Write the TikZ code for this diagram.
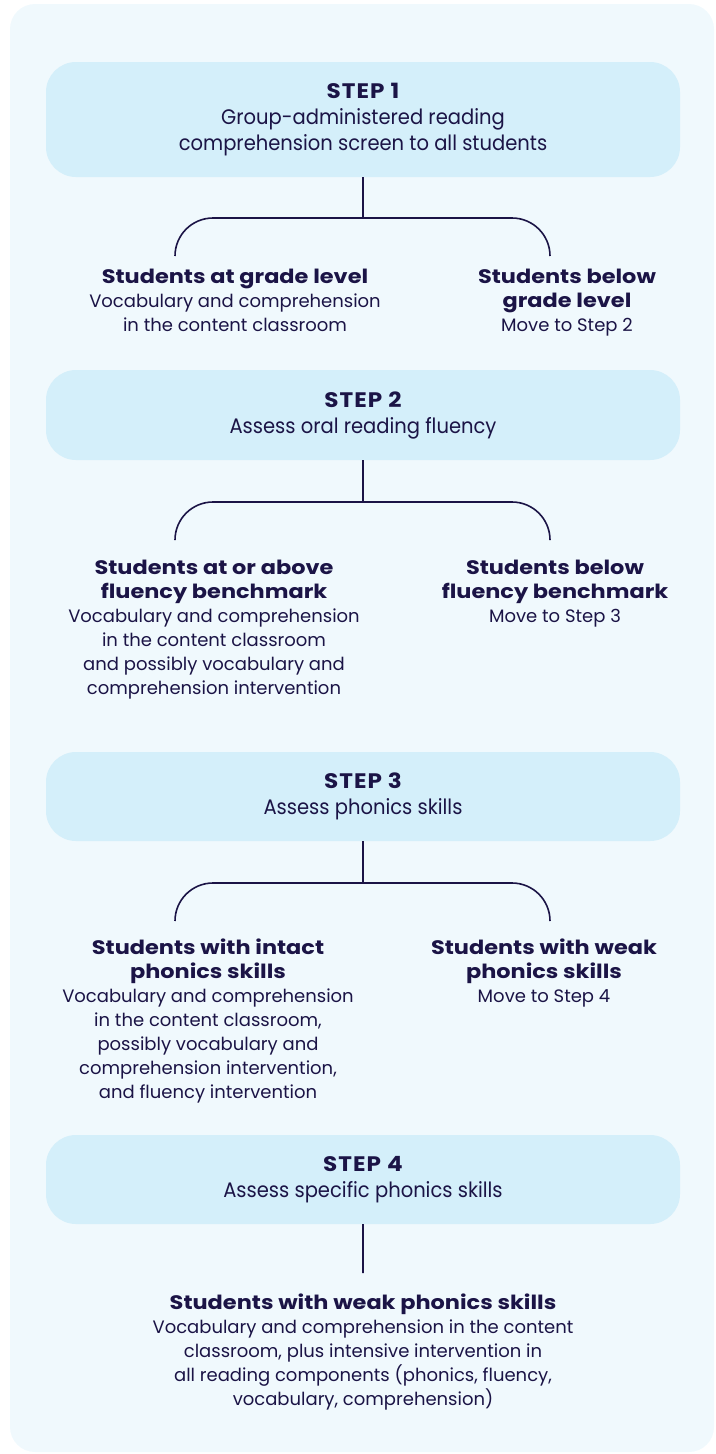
\documentclass[tikz,border=0pt]{standalone}
\usepackage{fontspec}
\setmainfont{Poppins}
\newfontfamily\stepfont[FakeStretch=0.93]{Poppins}
\newfontfamily\stepheadfont[FakeStretch=1.1,LetterSpace=5]{Poppins}
\newfontfamily\headfont[FakeStretch=1.15]{Poppins}
\usepackage{tikz}
\usetikzlibrary{positioning}

\definecolor{panelbg}{HTML}{F0F9FD}
\definecolor{stepbg}{HTML}{D4EFFA}
\definecolor{ink}{HTML}{1B1446}

\newcommand{\stephd}[1]{{\stepheadfont\bfseries #1}}
\newcommand{\outhd}[1]{{\headfont\bfseries\fontsize{19.5}{24}\selectfont #1}}

\begin{document}
\begin{tikzpicture}[x=1pt,y=-1pt,
                    stepbox/.style={rectangle,rounded corners=30pt,fill=stepbg,minimum width=634pt,
                                    align=center,text=ink,font=\stepfont\fontsize{21}{26}\selectfont},
                    outcome/.style={anchor=north,align=center,inner sep=0pt,text=ink,
                                    font=\fontsize{18}{24}\selectfont},
                    branch/.style={draw=ink,line width=1.6pt,rounded corners=38pt}]

  \useasboundingbox (0,0) rectangle (715,1454);
  \fill[panelbg,rounded corners=25pt] (10,4) rectangle (714,1452);

  % step boxes
  \node[stepbox,minimum height=115pt] (s1) at (363,119.5)
        {\stephd{STEP 1}\\Group-administered reading\\comprehension screen to all students};
  \node[stepbox,minimum height=90pt]  (s2) at (363,415)
        {\stephd{STEP 2}\\Assess oral reading fluency};
  \node[stepbox,minimum height=89pt]  (s3) at (363,796.5)
        {\stephd{STEP 3}\\Assess phonics skills};
  \node[stepbox,minimum height=89pt]  (s4) at (363,1179.5)
        {\stephd{STEP 4}\\Assess specific phonics skills};

  % branch points
  \coordinate (j1) at (363,218);  \coordinate (l1) at (175,256);  \coordinate (r1) at (550,256);
  \coordinate (j2) at (363,502);  \coordinate (l2) at (175,539);  \coordinate (r2) at (550,539);
  \coordinate (j3) at (363,883);  \coordinate (l3) at (175,921);  \coordinate (r3) at (550,921);
  \coordinate (e4) at (363,1273);

  \path[branch] (s1.south) -- (j1)  (l1) |- (j1) -| (r1)
                (s2.south) -- (j2)  (l2) |- (j2) -| (r2)
                (s3.south) -- (j3)  (l3) |- (j3) -| (r3)
                (s4.south) -- (e4);

  % outcomes
  \node[outcome] (a1) at (235,269)
        {\outhd{Students at grade level}\\Vocabulary and comprehension\\in the content classroom};
  \node[outcome] (b1) at (567,269)
        {\outhd{Students below}\\\outhd{grade level}\\Move to Step 2};

  \node[outcome] (a2) at (214,560)
        {\outhd{Students at or above}\\\outhd{fluency benchmark}\\Vocabulary and comprehension\\
         in the content classroom\\and possibly vocabulary and\\comprehension intervention};
  \node[outcome] (b2) at (555,560)
        {\outhd{Students below}\\\outhd{fluency benchmark}\\Move to Step 3};

  \node[outcome] (a3) at (208,939)
        {\outhd{Students with intact}\\\outhd{phonics skills}\\Vocabulary and comprehension\\
         in the content classroom,\\possibly vocabulary and\\comprehension intervention,\\
         and fluency intervention};
  \node[outcome] (b3) at (544,939)
        {\outhd{Students with weak}\\\outhd{phonics skills}\\Move to Step 4};

  \node[outcome] (c4) at (363,1294)
        {\outhd{Students with weak phonics skills}\\Vocabulary and comprehension in the content\\
         classroom, plus intensive intervention in\\all reading components (phonics, fluency,\\
         vocabulary, comprehension)};
\end{tikzpicture}
\end{document}
